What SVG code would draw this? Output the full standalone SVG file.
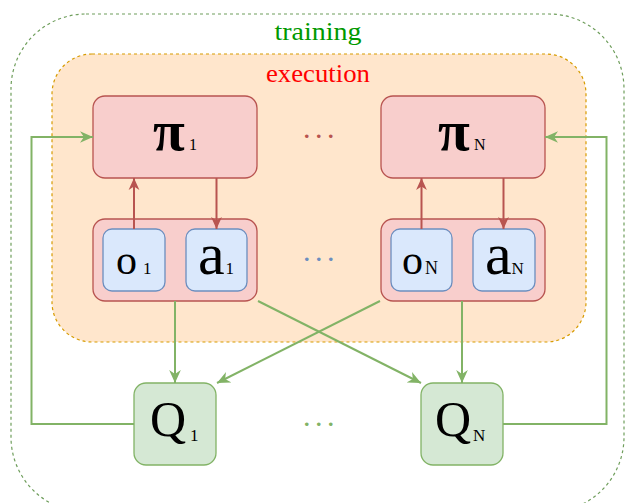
<svg xmlns="http://www.w3.org/2000/svg" width="625" height="503" viewBox="0 0 625 503">
<style>
.serif{font-family:"Liberation Serif","Times New Roman",serif;fill:#000}
.pi{font-family:"Liberation Serif","Times New Roman",serif;font-weight:bold;fill:#000}
.pol{fill:#f8cecc;stroke:#b85450;stroke-width:1.3}
.obs{fill:#dae8fc;stroke:#6c8ebf;stroke-width:1.3}
.q{fill:#d5e8d4;stroke:#82b366;stroke-width:1.3}
.red{fill:none;stroke:#b85450;stroke-width:2;marker-end:url(#ar)}
.grn{fill:none;stroke:#82b366;stroke-width:2}
.grna{marker-end:url(#ag)}
.dots{font-family:"Liberation Serif",serif;font-size:22px;font-weight:bold;letter-spacing:6.5px}
.sub{font-weight:normal;font-size:16px}
</style>
<defs>
<marker id="ar" viewBox="0 0 10 10" refX="10" refY="5" markerWidth="12" markerHeight="12" markerUnits="userSpaceOnUse" orient="auto"><path d="M0,0.5 L10,5 L0,9.5 L3,5 z" fill="#b85450"/></marker>
<marker id="ag" viewBox="0 0 10 10" refX="10" refY="5" markerWidth="13" markerHeight="13" markerUnits="userSpaceOnUse" orient="auto"><path d="M0,0.5 L10,5 L0,9.5 L3,5 z" fill="#82b366"/></marker>
</defs>

<g id="training">
<rect x="11" y="14" width="613" height="498" rx="75" fill="none" stroke="#6f9e5c" stroke-width="1.2" stroke-dasharray="3,3"/>
<text x="318" y="40" font-family="Liberation Serif,serif" font-size="25" fill="#009900" text-anchor="middle" textLength="87" lengthAdjust="spacingAndGlyphs">training</text>
</g>

<g id="execution">
<rect x="52" y="54" width="534" height="288" rx="40" fill="#ffe6cc" stroke="#d79b00" stroke-width="1.2" stroke-dasharray="3,3"/>
<text x="318" y="82" font-family="Liberation Serif,serif" font-size="25" fill="#ff0000" text-anchor="middle" textLength="104" lengthAdjust="spacingAndGlyphs">execution</text>
</g>

<g id="pi1">
<rect class="pol" x="93" y="96" width="164" height="82" rx="12"/>
<text class="pi" x="153" y="150" font-size="58">π<tspan class="sub" x="189" y="150">1</tspan></text>
</g>
<g id="piN">
<rect class="pol" x="381" y="96" width="164" height="82" rx="12"/>
<text class="pi" x="438" y="150" font-size="58">π<tspan class="sub" x="474" y="150">N</tspan></text>
</g>

<g id="agent1">
<rect class="pol" x="93" y="219" width="164" height="82" rx="12"/>
</g>
<g id="o1">
<rect class="obs" x="103" y="229" width="62" height="62" rx="9"/>
<text class="serif" x="116" y="273.5" font-size="42">o<tspan x="143" y="274" font-size="17">1</tspan></text>
</g>
<g id="a1">
<rect class="obs" x="186" y="229" width="61" height="62" rx="9"/>
<text class="serif" x="198" y="273.5" font-size="60">a<tspan x="225.5" y="274" font-size="17">1</tspan></text>
</g>

<g id="agentN">
<rect class="pol" x="381" y="219" width="164" height="82" rx="12"/>
</g>
<g id="oN">
<rect class="obs" x="391" y="229" width="61" height="62" rx="9"/>
<text class="serif" x="402" y="273.5" font-size="42">o<tspan x="425" y="274" font-size="18">N</tspan></text>
</g>
<g id="aN">
<rect class="obs" x="473" y="229" width="62" height="62" rx="9"/>
<text class="serif" x="485" y="273.5" font-size="60">a<tspan x="511.5" y="274" font-size="17">N</tspan></text>
</g>

<g id="Q1">
<rect class="q" x="134" y="383" width="82" height="82" rx="12"/>
<text class="serif" x="150" y="436" font-size="50">Q<tspan x="190" y="441" font-size="17">1</tspan></text>
</g>
<g id="QN">
<rect class="q" x="421" y="383" width="82" height="82" rx="12"/>
<text class="serif" x="435" y="436" font-size="50">Q<tspan x="473" y="441" font-size="17">N</tspan></text>
</g>

<g id="ellipses">
<text class="dots" x="304" y="138" fill="#b85450">...</text>
<text class="dots" x="304" y="261" fill="#6c8ebf">...</text>
<text class="dots" x="304" y="426" fill="#82b366">...</text>
</g>

<g id="connectors">
<path class="red" d="M134,229 L134,178"/>
<path class="red" d="M216.5,178 L216.5,229"/>
<path class="red" d="M421.5,229 L421.5,178"/>
<path class="red" d="M503.5,178 L503.5,229"/>
<path class="grn grna" d="M175,301 L175,383"/>
<path class="grn grna" d="M258,301 L421,383"/>
<path class="grn grna" d="M380,301 L217,383"/>
<path class="grn grna" d="M462,301 L462,383"/>
<path class="grn grna" d="M134,424 L31.5,424 L31.5,137 L93,137"/>
<path class="grn grna" d="M503,424 L606.5,424 L606.5,137 L545,137"/>
</g>
</svg>
